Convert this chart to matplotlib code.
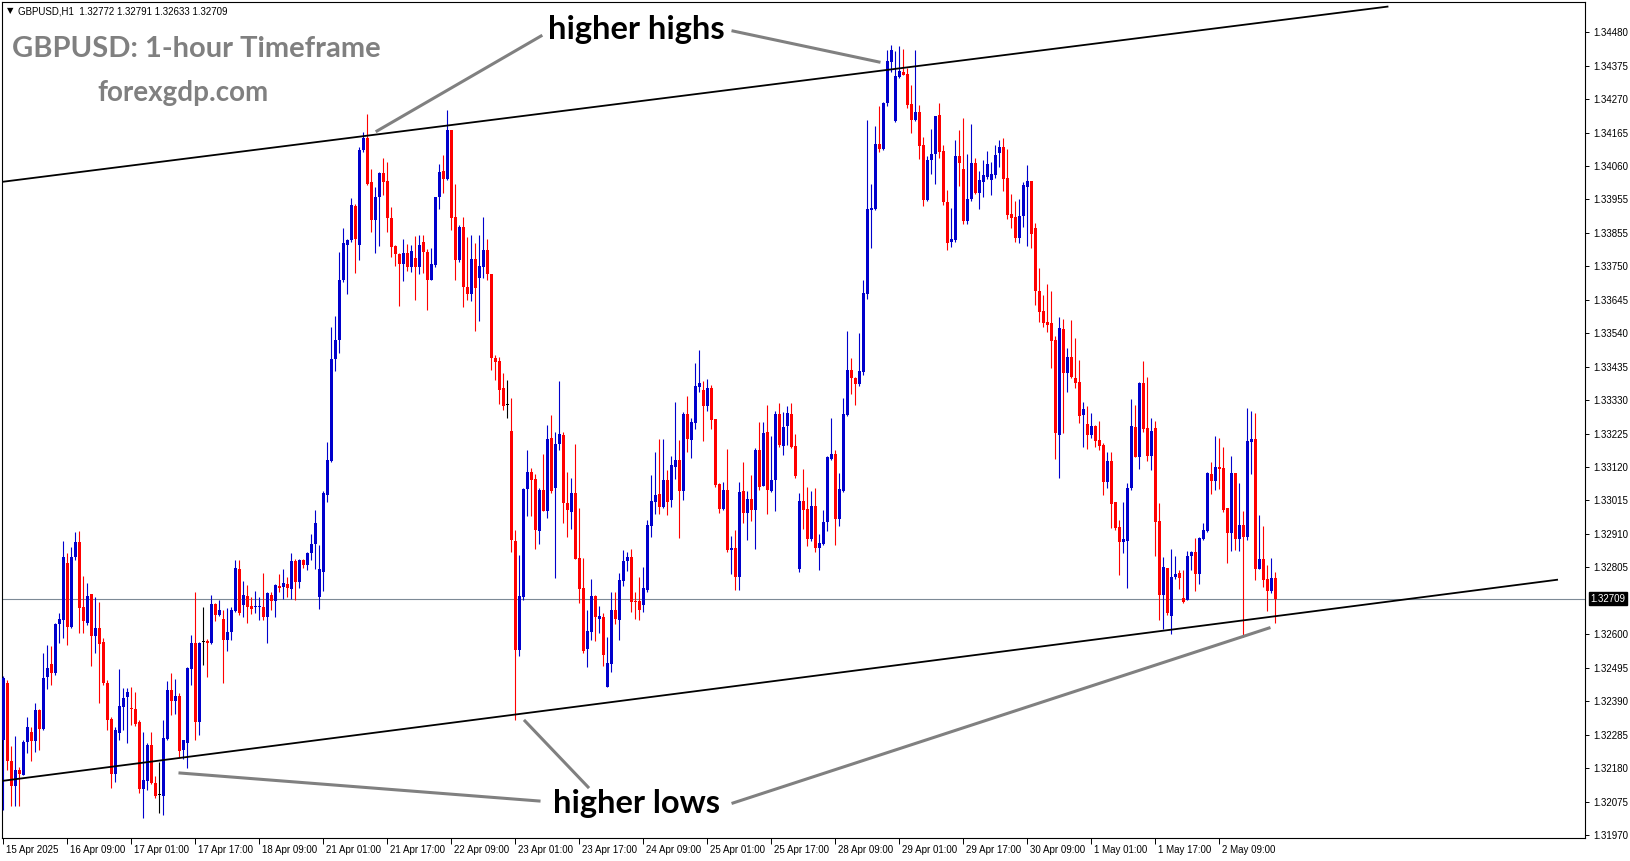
import numpy as np
import matplotlib.pyplot as plt
from matplotlib.lines import Line2D
from matplotlib.transforms import ScaledTranslation, blended_transform_factory

# GBPUSD H1 candles, 15 Apr 17:00 -> 2 May 23:00
opens = [
    1.32268, 1.32446, 1.32202, 1.32124, 1.32174, 1.32159, 1.32262, 1.32293, 1.32265, 1.32362,
    1.32302, 1.32465, 1.32505, 1.32477, 1.32631, 1.32643, 1.32821, 1.32621, 1.32840, 1.32887,
    1.32684, 1.32634, 1.32724, 1.32593, 1.32618, 1.32574, 1.32446, 1.32334, 1.32162, 1.32290,
    1.32371, 1.32402, 1.32368, 1.32365, 1.32324, 1.32115, 1.32140, 1.32252, 1.32134, 1.32096,
    1.32093, 1.32271, 1.32424, 1.32390, 1.32405, 1.32237, 1.32259, 1.32490, 1.32571, 1.32324,
    1.32574, 1.32577, 1.32571, 1.32693, 1.32659, 1.32646, 1.32581, 1.32606, 1.32671, 1.32802,
    1.32690, 1.32718, 1.32687, 1.32684, 1.32684, 1.32684, 1.32652, 1.32721, 1.32702, 1.32749,
    1.32746, 1.32755, 1.32740, 1.32827, 1.32762, 1.32831, 1.32815, 1.32852, 1.32880, 1.32715,
    1.32793, 1.33034, 1.33140, 1.33459, 1.33518, 1.33706, 1.33815, 1.33831, 1.33937, 1.33815,
    1.34112, 1.34149, 1.34012, 1.33893, 1.33965, 1.34040, 1.34015, 1.33899, 1.33812, 1.33787,
    1.33756, 1.33790, 1.33746, 1.33774, 1.33746, 1.33824, 1.33793, 1.33706, 1.33752, 1.33965,
    1.34046, 1.34021, 1.34174, 1.33902, 1.33768, 1.33871, 1.33684, 1.33662, 1.33771, 1.33712,
    1.33746, 1.33799, 1.33724, 1.33462, 1.33452, 1.33368, 1.33315, 1.33234, 1.32890, 1.32549,
    1.32715, 1.33052, 1.33105, 1.33084, 1.32921, 1.33049, 1.32984, 1.33212, 1.33056, 1.33193,
    1.33221, 1.33009, 1.32981, 1.33040, 1.32837, 1.32743, 1.32552, 1.32606, 1.32718, 1.32646,
    1.32652, 1.32433, 1.32506, 1.32674, 1.32643, 1.32765, 1.32827, 1.32840, 1.32702, 1.32702,
    1.32690, 1.32737, 1.32937, 1.33012, 1.33037, 1.32996, 1.33081, 1.33018, 1.33121, 1.33143,
    1.33046, 1.33287, 1.33206, 1.33259, 1.33371, 1.33362, 1.33312, 1.33368, 1.33271, 1.33068,
    1.32990, 1.33049, 1.32862, 1.32868, 1.32777, 1.33046, 1.32978, 1.33021, 1.32987, 1.33174,
    1.33062, 1.33231, 1.33046, 1.33081, 1.33287, 1.33187, 1.33249, 1.33287, 1.33187, 1.32802,
    1.33015, 1.32990, 1.32896, 1.32999, 1.32868, 1.32880, 1.32949, 1.33146, 1.33162, 1.32958,
    1.33046, 1.33284, 1.33424, 1.33399, 1.33381, 1.33418, 1.33662, 1.33924, 1.33927, 1.34131,
    1.34115, 1.34259, 1.34387, 1.34202, 1.34340, 1.34356, 1.34349, 1.34255, 1.34206, 1.34231,
    1.34127, 1.33956, 1.34081, 1.34099, 1.34221, 1.34109, 1.33949, 1.33824, 1.33831, 1.34093,
    1.34052, 1.33890, 1.33959, 1.34071, 1.33977, 1.34012, 1.34027, 1.34018, 1.34034, 1.34102,
    1.34121, 1.34024, 1.33912, 1.33902, 1.33837, 1.33905, 1.33996, 1.34015, 1.33868, 1.33671,
    1.33609, 1.33574, 1.33571, 1.33518, 1.33221, 1.33552, 1.33415, 1.33465, 1.33399, 1.33387,
    1.33284, 1.33256, 1.33221, 1.33249, 1.33206, 1.33190, 1.33074, 1.33140, 1.33012, 1.32933,
    1.32887, 1.32890, 1.33056, 1.33246, 1.33152, 1.33384, 1.33243, 1.33156, 1.33243, 1.32952,
    1.32721, 1.32805, 1.32655, 1.32777, 1.32790, 1.32712, 1.32706, 1.32843, 1.32855, 1.32787,
    1.32896, 1.32921, 1.33099, 1.33077, 1.33121, 1.33118, 1.32993, 1.32915, 1.33102, 1.32896,
    1.32940, 1.32902, 1.33199, 1.33209, 1.32802, 1.32834, 1.32771, 1.32734, 1.32772,
]
highs = [
    1.32468, 1.32456, 1.32249, 1.32280, 1.32184, 1.32268, 1.32340, 1.32309, 1.32384, 1.32365,
    1.32540, 1.32565, 1.32562, 1.32634, 1.32665, 1.32890, 1.32852, 1.32871, 1.32918, 1.32921,
    1.32780, 1.32758, 1.32724, 1.32715, 1.32699, 1.32587, 1.32456, 1.32340, 1.32309, 1.32490,
    1.32430, 1.32430, 1.32434, 1.32418, 1.32331, 1.32293, 1.32259, 1.32293, 1.32155, 1.32199,
    1.32331, 1.32452, 1.32477, 1.32459, 1.32415, 1.32268, 1.32496, 1.32596, 1.32730, 1.32574,
    1.32684, 1.32584, 1.32721, 1.32696, 1.32706, 1.32674, 1.32680, 1.32684, 1.32831, 1.32831,
    1.32765, 1.32752, 1.32715, 1.32734, 1.32715, 1.32790, 1.32730, 1.32730, 1.32755, 1.32787,
    1.32802, 1.32777, 1.32852, 1.32834, 1.32834, 1.32834, 1.32855, 1.32912, 1.32987, 1.32877,
    1.33046, 1.33199, 1.33559, 1.33593, 1.33793, 1.33868, 1.33834, 1.33962, 1.33943, 1.34121,
    1.34168, 1.34224, 1.34052, 1.33996, 1.34043, 1.34087, 1.34074, 1.33933, 1.33815, 1.33790,
    1.33834, 1.33818, 1.33815, 1.33843, 1.33846, 1.33846, 1.33802, 1.33805, 1.33965, 1.34068,
    1.34096, 1.34237, 1.34174, 1.34005, 1.33877, 1.33902, 1.33840, 1.33846, 1.33821, 1.33846,
    1.33902, 1.33834, 1.33724, 1.33471, 1.33465, 1.33415, 1.33393, 1.33337, 1.32924, 1.32846,
    1.33056, 1.33174, 1.33118, 1.33099, 1.33056, 1.33162, 1.33252, 1.33284, 1.33231, 1.33390,
    1.33231, 1.33106, 1.33087, 1.33193, 1.32993, 1.32837, 1.32674, 1.32771, 1.32721, 1.32687,
    1.32665, 1.32590, 1.32730, 1.32730, 1.32790, 1.32862, 1.32855, 1.32865, 1.32730, 1.32777,
    1.32808, 1.32956, 1.33096, 1.33168, 1.33209, 1.33209, 1.33112, 1.33156, 1.33324, 1.33206,
    1.33293, 1.33343, 1.33274, 1.33446, 1.33487, 1.33390, 1.33396, 1.33377, 1.33271, 1.33071,
    1.33074, 1.33177, 1.32905, 1.32924, 1.33074, 1.33137, 1.33046, 1.33096, 1.33181, 1.33262,
    1.33262, 1.33315, 1.33218, 1.33296, 1.33321, 1.33293, 1.33312, 1.33321, 1.33224, 1.33040,
    1.33115, 1.33059, 1.33046, 1.33056, 1.32912, 1.32987, 1.33156, 1.33274, 1.33174, 1.33102,
    1.33337, 1.33546, 1.33462, 1.33402, 1.33540, 1.33706, 1.34206, 1.34005, 1.34187, 1.34249,
    1.34262, 1.34424, 1.34440, 1.34421, 1.34437, 1.34427, 1.34368, 1.34315, 1.34424, 1.34252,
    1.34152, 1.34093, 1.34177, 1.34218, 1.34259, 1.34127, 1.33987, 1.33930, 1.34143, 1.34174,
    1.34212, 1.34099, 1.34193, 1.34087, 1.34046, 1.34081, 1.34109, 1.34074, 1.34127, 1.34143,
    1.34149, 1.34115, 1.33974, 1.33952, 1.33959, 1.34012, 1.34065, 1.34015, 1.33884, 1.33743,
    1.33659, 1.33693, 1.33671, 1.33531, 1.33590, 1.33584, 1.33493, 1.33581, 1.33524, 1.33456,
    1.33324, 1.33312, 1.33290, 1.33252, 1.33265, 1.33196, 1.33168, 1.33168, 1.33012, 1.32956,
    1.33012, 1.33071, 1.33334, 1.33315, 1.33387, 1.33452, 1.33402, 1.33274, 1.33265, 1.33009,
    1.32840, 1.32805, 1.32865, 1.32843, 1.32799, 1.32799, 1.32859, 1.32859, 1.32899, 1.32902,
    1.32946, 1.33105, 1.33137, 1.33218, 1.33212, 1.33184, 1.32993, 1.33156, 1.33102, 1.33071,
    1.32984, 1.33306, 1.33296, 1.33290, 1.32971, 1.32937, 1.32815, 1.32837, 1.32791,
]
lows = [
    1.32049, 1.32174, 1.32062, 1.32062, 1.32062, 1.32159, 1.32227, 1.32202, 1.32231, 1.32237,
    1.32299, 1.32427, 1.32440, 1.32471, 1.32571, 1.32587, 1.32565, 1.32618, 1.32831, 1.32602,
    1.32602, 1.32627, 1.32499, 1.32540, 1.32384, 1.32440, 1.32299, 1.32118, 1.32137, 1.32268,
    1.32299, 1.32259, 1.32315, 1.32312, 1.32102, 1.32024, 1.32112, 1.32130, 1.32087, 1.32040,
    1.32034, 1.32268, 1.32346, 1.32349, 1.32215, 1.32209, 1.32180, 1.32440, 1.32268, 1.32284,
    1.32502, 1.32465, 1.32568, 1.32640, 1.32655, 1.32446, 1.32546, 1.32581, 1.32668, 1.32659,
    1.32652, 1.32634, 1.32662, 1.32665, 1.32643, 1.32643, 1.32571, 1.32674, 1.32652, 1.32730,
    1.32709, 1.32715, 1.32709, 1.32706, 1.32743, 1.32805, 1.32799, 1.32831, 1.32802, 1.32677,
    1.32734, 1.33012, 1.33137, 1.33421, 1.33477, 1.33699, 1.33662, 1.33824, 1.33727, 1.33768,
    1.34106, 1.34002, 1.33855, 1.33790, 1.33812, 1.33971, 1.33855, 1.33777, 1.33749, 1.33624,
    1.33702, 1.33733, 1.33730, 1.33643, 1.33724, 1.33727, 1.33612, 1.33706, 1.33746, 1.33927,
    1.33977, 1.34018, 1.33862, 1.33706, 1.33762, 1.33621, 1.33643, 1.33640, 1.33546, 1.33577,
    1.33712, 1.33706, 1.33424, 1.33393, 1.33318, 1.33299, 1.33274, 1.32855, 1.32331, 1.32530,
    1.32706, 1.32968, 1.32968, 1.32865, 1.32880, 1.32984, 1.32962, 1.33040, 1.32774, 1.33174,
    1.32946, 1.32902, 1.32927, 1.32834, 1.32696, 1.32540, 1.32496, 1.32581, 1.32577, 1.32602,
    1.32499, 1.32433, 1.32479, 1.32630, 1.32581, 1.32749, 1.32796, 1.32668, 1.32646, 1.32643,
    1.32668, 1.32730, 1.32902, 1.32975, 1.32975, 1.32993, 1.32971, 1.32996, 1.33084, 1.32899,
    1.33018, 1.33168, 1.33149, 1.33240, 1.33356, 1.33202, 1.33296, 1.33240, 1.33059, 1.32978,
    1.32987, 1.32855, 1.32787, 1.32737, 1.32737, 1.32946, 1.32893, 1.32952, 1.32865, 1.33049,
    1.33062, 1.32975, 1.33043, 1.32984, 1.33184, 1.33159, 1.33190, 1.33181, 1.33087, 1.32793,
    1.32927, 1.32874, 1.32890, 1.32855, 1.32799, 1.32877, 1.32921, 1.33143, 1.32877, 1.32937,
    1.33043, 1.33281, 1.33349, 1.33315, 1.33374, 1.33409, 1.33646, 1.33805, 1.33924, 1.34106,
    1.34112, 1.34249, 1.34356, 1.34199, 1.34337, 1.34346, 1.34243, 1.34165, 1.34202, 1.34084,
    1.33937, 1.33952, 1.34037, 1.34005, 1.34087, 1.33940, 1.33799, 1.33808, 1.33824, 1.33999,
    1.33880, 1.33880, 1.33952, 1.33974, 1.33927, 1.33965, 1.34021, 1.33971, 1.34024, 1.34059,
    1.33984, 1.33896, 1.33868, 1.33824, 1.33821, 1.33871, 1.33812, 1.33805, 1.33627, 1.33574,
    1.33559, 1.33543, 1.33430, 1.33146, 1.33087, 1.33227, 1.33356, 1.33399, 1.33368, 1.33259,
    1.33184, 1.33177, 1.33212, 1.33184, 1.33174, 1.33034, 1.33056, 1.32930, 1.32924, 1.32783,
    1.32852, 1.32743, 1.33049, 1.33152, 1.33115, 1.33231, 1.33140, 1.33112, 1.32843, 1.32643,
    1.32615, 1.32659, 1.32599, 1.32771, 1.32740, 1.32696, 1.32706, 1.32799, 1.32734, 1.32755,
    1.32893, 1.32918, 1.33037, 1.33049, 1.33052, 1.32980, 1.32821, 1.32859, 1.32862, 1.32859,
    1.32590, 1.32893, 1.33099, 1.32768, 1.32802, 1.32746, 1.32671, 1.32727, 1.32633,
]
closes = [
    1.32462, 1.32202, 1.32124, 1.32174, 1.32162, 1.32262, 1.32309, 1.32265, 1.32362, 1.32302,
    1.32462, 1.32493, 1.32477, 1.32631, 1.32646, 1.32840, 1.32621, 1.32840, 1.32887, 1.32681,
    1.32640, 1.32718, 1.32593, 1.32618, 1.32568, 1.32446, 1.32331, 1.32162, 1.32299, 1.32374,
    1.32399, 1.32418, 1.32365, 1.32318, 1.32115, 1.32143, 1.32252, 1.32134, 1.32093, 1.32096,
    1.32274, 1.32424, 1.32390, 1.32405, 1.32234, 1.32268, 1.32493, 1.32571, 1.32324, 1.32571,
    1.32574, 1.32571, 1.32693, 1.32659, 1.32674, 1.32581, 1.32606, 1.32674, 1.32805, 1.32665,
    1.32721, 1.32684, 1.32677, 1.32687, 1.32687, 1.32652, 1.32727, 1.32702, 1.32752, 1.32743,
    1.32758, 1.32743, 1.32827, 1.32762, 1.32831, 1.32815, 1.32852, 1.32880, 1.32946, 1.32802,
    1.33040, 1.33143, 1.33459, 1.33518, 1.33706, 1.33821, 1.33831, 1.33940, 1.33834, 1.34112,
    1.34149, 1.34006, 1.33893, 1.33965, 1.34040, 1.34012, 1.33899, 1.33808, 1.33787, 1.33756,
    1.33790, 1.33746, 1.33796, 1.33746, 1.33815, 1.33793, 1.33706, 1.33756, 1.33965, 1.34043,
    1.34021, 1.34174, 1.33899, 1.33768, 1.33871, 1.33684, 1.33662, 1.33771, 1.33680, 1.33749,
    1.33799, 1.33724, 1.33462, 1.33449, 1.33362, 1.33312, 1.33315, 1.32893, 1.32549, 1.32718,
    1.33052, 1.33105, 1.33081, 1.32924, 1.33049, 1.32984, 1.33209, 1.33046, 1.33193, 1.33224,
    1.33009, 1.32987, 1.33040, 1.32834, 1.32740, 1.32546, 1.32609, 1.32718, 1.32652, 1.32655,
    1.32534, 1.32509, 1.32674, 1.32646, 1.32768, 1.32827, 1.32840, 1.32699, 1.32699, 1.32674,
    1.32743, 1.32940, 1.33015, 1.33034, 1.32996, 1.33081, 1.33012, 1.33127, 1.33143, 1.33046,
    1.33287, 1.33209, 1.33262, 1.33374, 1.33384, 1.33312, 1.33368, 1.33268, 1.33065, 1.32990,
    1.33049, 1.32862, 1.32868, 1.32777, 1.33043, 1.32978, 1.33021, 1.32987, 1.33174, 1.33059,
    1.33227, 1.33049, 1.33081, 1.33287, 1.33190, 1.33246, 1.33290, 1.33184, 1.33093, 1.33015,
    1.32987, 1.32896, 1.32999, 1.32868, 1.32884, 1.32949, 1.33152, 1.33162, 1.32958, 1.33052,
    1.33287, 1.33424, 1.33399, 1.33381, 1.33421, 1.33665, 1.33927, 1.33930, 1.34131, 1.34115,
    1.34259, 1.34390, 1.34424, 1.34343, 1.34359, 1.34346, 1.34252, 1.34206, 1.34231, 1.34124,
    1.33956, 1.34081, 1.34099, 1.34218, 1.34106, 1.33949, 1.33821, 1.33834, 1.34093, 1.34071,
    1.33890, 1.33959, 1.34071, 1.33977, 1.34018, 1.34034, 1.34068, 1.34037, 1.34096, 1.34121,
    1.34021, 1.33909, 1.33899, 1.33837, 1.33905, 1.34002, 1.34015, 1.33849, 1.33671, 1.33605,
    1.33571, 1.33565, 1.33515, 1.33227, 1.33555, 1.33415, 1.33465, 1.33402, 1.33384, 1.33281,
    1.33302, 1.33221, 1.33249, 1.33202, 1.33187, 1.33074, 1.33140, 1.33006, 1.32930, 1.32887,
    1.32896, 1.33056, 1.33249, 1.33152, 1.33384, 1.33240, 1.33156, 1.33234, 1.32949, 1.32721,
    1.32808, 1.32665, 1.32777, 1.32787, 1.32774, 1.32699, 1.32843, 1.32855, 1.32787, 1.32899,
    1.32924, 1.33102, 1.33077, 1.33121, 1.33115, 1.32987, 1.32915, 1.33102, 1.32896, 1.32940,
    1.32902, 1.33202, 1.33209, 1.32802, 1.32834, 1.32768, 1.32734, 1.32774, 1.32709,
]

price_labels = ["1.34480", "1.34375", "1.34270", "1.34165", "1.34060", "1.33955", "1.33855",
                "1.33750", "1.33645", "1.33540", "1.33435", "1.33330", "1.33225", "1.33120",
                "1.33015", "1.32910", "1.32805", "1.32600", "1.32495", "1.32390",
                "1.32285", "1.32180", "1.32075", "1.31970"]
date_bars = [0, 16, 32, 48, 64, 80, 96, 112, 128, 144, 160, 176, 192, 208, 224, 240, 256, 272, 288, 304]
date_labels = ["15 Apr 2025", "16 Apr 09:00", "17 Apr 01:00", "17 Apr 17:00", "18 Apr 09:00",
               "21 Apr 01:00", "21 Apr 17:00", "22 Apr 09:00", "23 Apr 01:00", "23 Apr 17:00",
               "24 Apr 09:00", "25 Apr 01:00", "25 Apr 17:00", "28 Apr 09:00", "29 Apr 01:00",
               "29 Apr 17:00", "30 Apr 09:00", "1 May 01:00", "1 May 17:00", "2 May 09:00"]
last_price = 1.32709

# channel lines (bar index, price)
upper_bars, upper_prices = [-0.4, 346], [1.34012, 1.34560]
lower_bars, lower_prices = [-0.4, 388.4], [1.32139, 1.32768]

W, H = 1631, 861
fig = plt.figure(figsize=(W / 100, H / 100), dpi=100)
ax = fig.add_axes([2 / W, 1 - 838 / H, 1583 / W, 836 / H])
ax.set_xlim(-0.375, 395.375)
ax.set_ylim(1.319606, 1.345744)

o, h, l, c = map(np.array, (opens, highs, lows, closes))
h = np.maximum(h, np.maximum(o, c))
l = np.minimum(l, np.minimum(o, c))
x = np.arange(len(o))
body = np.maximum(np.abs(c - o), 0.00003)
for mask, col in ((c > o, "#0000cc"), (c < o, "#ff0000"), (c == o, "black")):
    ax.vlines(x[mask], l[mask], h[mask], color=col, lw=0.8, zorder=3)
    ax.bar(x[mask], body[mask], bottom=np.minimum(o, c)[mask], width=0.75,
           color=col, linewidth=0, zorder=3)

ax.axhline(last_price, color="#7d8a96", lw=0.8, zorder=2)
ax.plot(upper_bars, upper_prices, color="black", lw=1.3, zorder=4)
ax.plot(lower_bars, lower_prices, color="black", lw=1.3, zorder=4)

for s in ax.spines.values():
    s.set_linewidth(0.8)

# y ticks every 24 px, the 1.32709 slot is taken by the price box
ticks = np.linspace(1.34480, 1.31970, 25)
ticks = np.delete(ticks, 17)
ax.yaxis.tick_right()
ax.set_yticks(ticks, labels=price_labels)
ax.tick_params(axis="y", length=3, width=0.7, pad=3, labelsize=7)
for t in ax.get_yticklabels():
    t.set_family("Liberation Sans")

ax.set_xticks(date_bars, labels=date_labels)
ax.tick_params(axis="x", length=4, width=0.7, pad=1, labelsize=7)
off = ScaledTranslation(1.5 / 72, 0, fig.dpi_scale_trans)
for t in ax.get_xticklabels():
    t.set_family("Liberation Sans")
    t.set_ha("left")
    t.set_transform(t.get_transform() + off)

tr = blended_transform_factory(ax.transAxes, ax.transData)
ax.text(1.0035, last_price, "1.32709", transform=tr, ha="left", va="center", fontsize=7,
        family="Liberation Sans", color="white",
        bbox=dict(boxstyle="square,pad=0.15", fc="black", ec="black"))

# header
fig.text(7 / W, 1 - 11 / H, "▼", fontsize=6, family="DejaVu Sans", va="center")
fig.text(18 / W, 1 - 11 / H, "GBPUSD,H1  1.32772 1.32791 1.32633 1.32709", fontsize=7,
         family="Liberation Sans", va="center")
fig.text(12 / W, 1 - 57 / H, "GBPUSD: 1-hour Timeframe", fontsize=21, family="Lato",
         weight="bold", color="#808080", va="baseline")
fig.text(97 / W, 1 - 101 / H, "forexgdp.com", fontsize=20, family="Lato",
         weight="bold", color="#808080", va="baseline")

# annotations
fig.text(636 / W, 1 - 29 / H, "higher highs", fontsize=23.5, family="Lato", weight="bold",
         ha="center", va="center")
fig.text(637 / W, 1 - 804 / H, "higher lows", fontsize=23.5, family="Lato", weight="bold",
         ha="center", va="center")
for (x1, y1), (x2, y2) in [((541, 36), (377, 131)), ((733, 31), (879, 62)),
                           ((539, 801), (180, 773)), ((588, 787), (525, 721)),
                           ((733, 803), (1269, 628))]:
    fig.add_artist(Line2D([x1 / W, x2 / W], [1 - y1 / H, 1 - y2 / H], transform=fig.transFigure,
                          color="#808080", lw=2.2, zorder=5))

fig.savefig("out.png", dpi=100)
